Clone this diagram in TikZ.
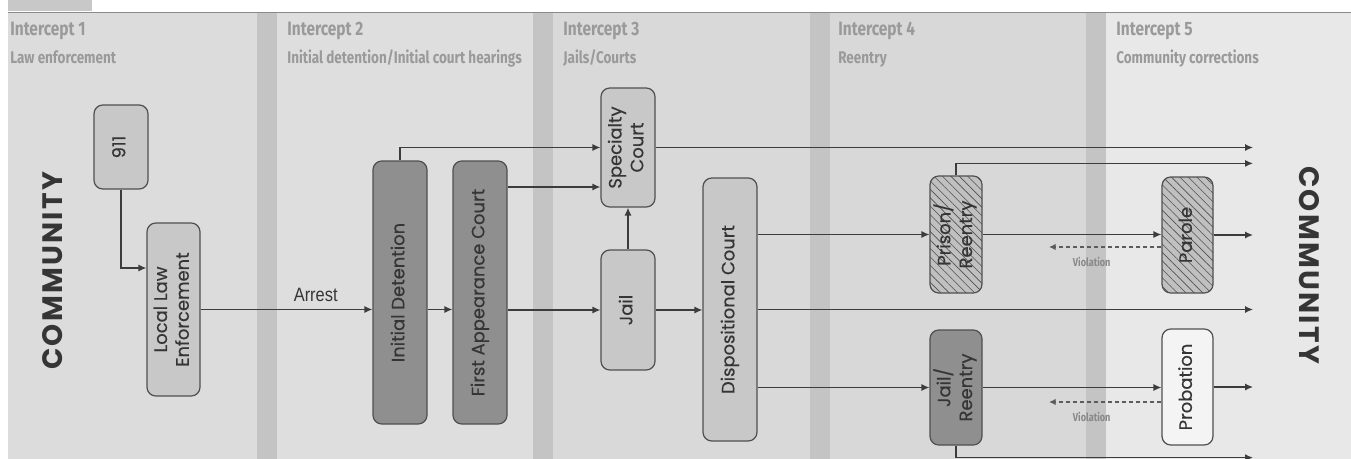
\documentclass[tikz,border=0pt]{standalone}
\usepackage{fontspec}
\usepackage{graphicx}
\setmainfont{Poppins}
\newfontfamily\boxfont[FakeBold=0.5]{Poppins}
\newfontfamily\headfont[FakeStretch=0.8]{Fira Sans}
\newfontfamily\arrestfont[FakeStretch=0.85]{Liberation Sans}
\usetikzlibrary{patterns.meta,arrows.meta}

\definecolor{colA}{HTML}{DCDCDC}
\definecolor{colB}{HTML}{DEDEDE}
\definecolor{colC}{HTML}{D9D9D9}
\definecolor{colD}{HTML}{D8D8D8}
\definecolor{colE}{HTML}{E8E8E8}
\definecolor{barcol}{HTML}{C4C4C4}
\definecolor{tabcol}{HTML}{C8C8C8}
\definecolor{framecol}{HTML}{8A8A8A}
\definecolor{hdrcol}{HTML}{9A9A9A}
\definecolor{violcol}{HTML}{888888}
\definecolor{dashcol}{HTML}{5C5C5C}
\definecolor{boxlight}{HTML}{C8C8C8}
\definecolor{boxdark}{HTML}{8F8F8F}
\definecolor{boxhatch}{HTML}{C0C0C0}
\definecolor{boxwhite}{HTML}{F4F4F4}
\definecolor{edgecol}{HTML}{505050}
\definecolor{linecol}{HTML}{3C3C3C}
\definecolor{txtcol}{HTML}{353535}

\newcommand{\vlabel}[1]{\rotatebox{90}{\begin{tabular}{@{}c@{}}#1\end{tabular}}}

\begin{document}
\begin{tikzpicture}
	\tikzstyle{box}=[draw=edgecol, line width=0.7pt, rounded corners=5pt, inner sep=0pt, text=txtcol, font=\boxfont\fontsize{10.2}{12.4}\selectfont]
	\tikzstyle{light}=[box, fill=boxlight]
	\tikzstyle{dark}=[box, fill=boxdark]
	\tikzstyle{hatched}=[box, fill=boxhatch, postaction={pattern={Lines[angle=-45,distance=3.4pt,line width=0.35pt]}, pattern color=edgecol}]
	\tikzstyle{arr}=[draw=linecol, line width=0.75pt, -{Latex[length=4.5pt,width=4pt]}]
	\tikzstyle{hdr}=[anchor=base west, inner sep=0pt, text=hdrcol]
	\tikzstyle{comm}=[text=txtcol, font=\bfseries\fontsize{16}{18}\selectfont\addfontfeature{LetterSpace=8}]
	\useasboundingbox (0,0) rectangle (27.02,-9.18);
	% Background
	\fill[tabcol] (0.16,0) rectangle (1.84,-0.22);
	\foreach \a/\b/\c in {0.16/5.14/colA, 5.54/10.66/colB, 11.06/16.20/colC, 16.58/21.72/colD, 22.12/27.02/colE}
		\fill[\c] (\a,-0.26) rectangle (\b,-9.18);
	\foreach \x in {5.14,10.66,16.20,21.72}
		\fill[barcol] (\x,-0.26) rectangle ++(0.40,-8.92);
	\draw[framecol, line width=0.6pt] (0.16,-0.25) -- (27.02,-0.25);
	% Headers
	\foreach \x/\n/\t in {0.20/1/{Law enforcement}, 5.74/2/{Initial detention/Initial court hearings}, 11.26/3/{Jails/Courts}, 16.76/4/{Reentry}, 22.32/5/{Community corrections}} {
		\node[hdr, font=\headfont\bfseries\fontsize{11}{13}\selectfont] (int_\n) at (\x,-0.70) {Intercept \n};
		\node[hdr, font=\headfont\bfseries\fontsize{9.6}{11}\selectfont] (sub_\n) at (\x,-1.26) {\t};
	}
	\node[comm, rotate=90] (commL) at (1.06,-5.42) {COMMUNITY};
	\node[comm, rotate=-90] (commR) at (26.18,-5.30) {COMMUNITY};
	\coordinate (edge) at (25.06,0);
	%---------------------%
	% Intercept 1
	\node[light, minimum width=1.08cm, minimum height=1.68cm] (call) at (2.42,-2.94) {\vlabel{911}};
	\node[light, minimum width=1.06cm, minimum height=3.46cm] (lle) at (3.47,-6.19) {\vlabel{Local Law\\Enforcement}};
	% Intercept 2
	\node[dark, minimum width=1.08cm, minimum height=5.26cm] (det) at (8.00,-5.85) {\vlabel{Initial Detention}};
	\node[dark, minimum width=1.08cm, minimum height=5.26cm] (fac) at (9.60,-5.85) {\vlabel{First Appearance Court}};
	% Intercept 3
	\node[light, minimum width=1.08cm, minimum height=2.38cm] (spec) at (12.56,-2.95) {\vlabel{Specialty\\Court}};
	\node[light, minimum width=1.08cm, minimum height=2.40cm] (jail) at (12.56,-6.20) {\vlabel{Jail}};
	\node[light, minimum width=1.08cm, minimum height=5.26cm] (disp) at (14.60,-6.19) {\vlabel{Dispositional Court}};
	% Intercept 4
	\node[hatched, minimum width=1.04cm, minimum height=2.34cm] (prison) at (19.12,-4.69) {\vlabel{Prison/\\Reentry}};
	\node[dark, minimum width=1.04cm, minimum height=2.30cm] (jre) at (19.12,-7.75) {\vlabel{Jail/\\Reentry}};
	% Intercept 5
	\node[hatched, minimum width=1.02cm, minimum height=2.32cm] (parole) at (23.75,-4.70) {\vlabel{Parole}};
	\node[box, fill=boxwhite, minimum width=1.02cm, minimum height=2.32cm] (prob) at (23.75,-7.74) {\vlabel{Probation}};
	\coordinate (viol_1) at (20.98,-4.94);
	\coordinate (viol_2) at (20.98,-8.04);
	%---------------------%
	% Intercept 1 -> Intercept 2
	\draw[arr] (call.south) |- ([yshift=0.83cm]lle.west);
	\draw[arr] (lle.east) -- (lle.east -| det.west) node[pos=0.67, above=1pt, text=txtcol, font=\arrestfont\fontsize{11}{13}\selectfont] (arrest) {Arrest};
	\draw[arr] (det.east |- lle) -- (fac.west |- lle);
	% Intercept 2 -> Intercept 3
	\draw[arr] (det.north) |- (spec.west);
	\draw[arr] ([yshift=-0.79cm]spec.west -| fac.east) -- ([yshift=-0.79cm]spec.west);
	\draw[arr] (fac.east |- jail) -- (jail.west);
	\draw[arr] (jail.north) -- (spec.south);
	\draw[arr] (jail.east) -- (jail.east -| disp.west);
	% Intercept 3 -> Intercept 4
	\draw[arr] (spec.east) -- (spec.east -| edge);
	\draw[arr] (disp.east |- prison.west) -- (prison.west);
	\draw[arr] (disp.east) -- (disp.east -| edge);
	\draw[arr] (disp.east |- jre.west) -- (jre.west);
	% Intercept 4 -> Intercept 5
	\draw[arr] (prison.north) -- ++(0,0.24) coordinate (pr_up) -- (pr_up -| edge);
	\draw[arr] (prison.east) -- (prison.east -| parole.west);
	\draw[arr] (jre.east) -- (jre.east -| prob.west);
	\draw[arr] (jre.south) -- ++(0,-0.24) coordinate (jr_dn) -- (jr_dn -| edge);
	\draw[arr] (parole.east) -- (parole.east -| edge);
	\draw[arr] (prob.east) -- (prob.east -| edge);
	% Violations
	\foreach \v/\b in {1/parole, 2/prob}
		\draw[arr, draw=dashcol, dash pattern=on 2.5pt off 1.5pt, -{Latex[length=3.8pt,width=3.8pt]}] (\b.west |- viol_\v) -- (viol_\v) node[pos=0.62, below=2pt, text=violcol, font=\headfont\bfseries\fontsize{6.5}{8}\selectfont] (vlab_\v) {Violation};
	%---------------------%
\end{tikzpicture}
\end{document}
